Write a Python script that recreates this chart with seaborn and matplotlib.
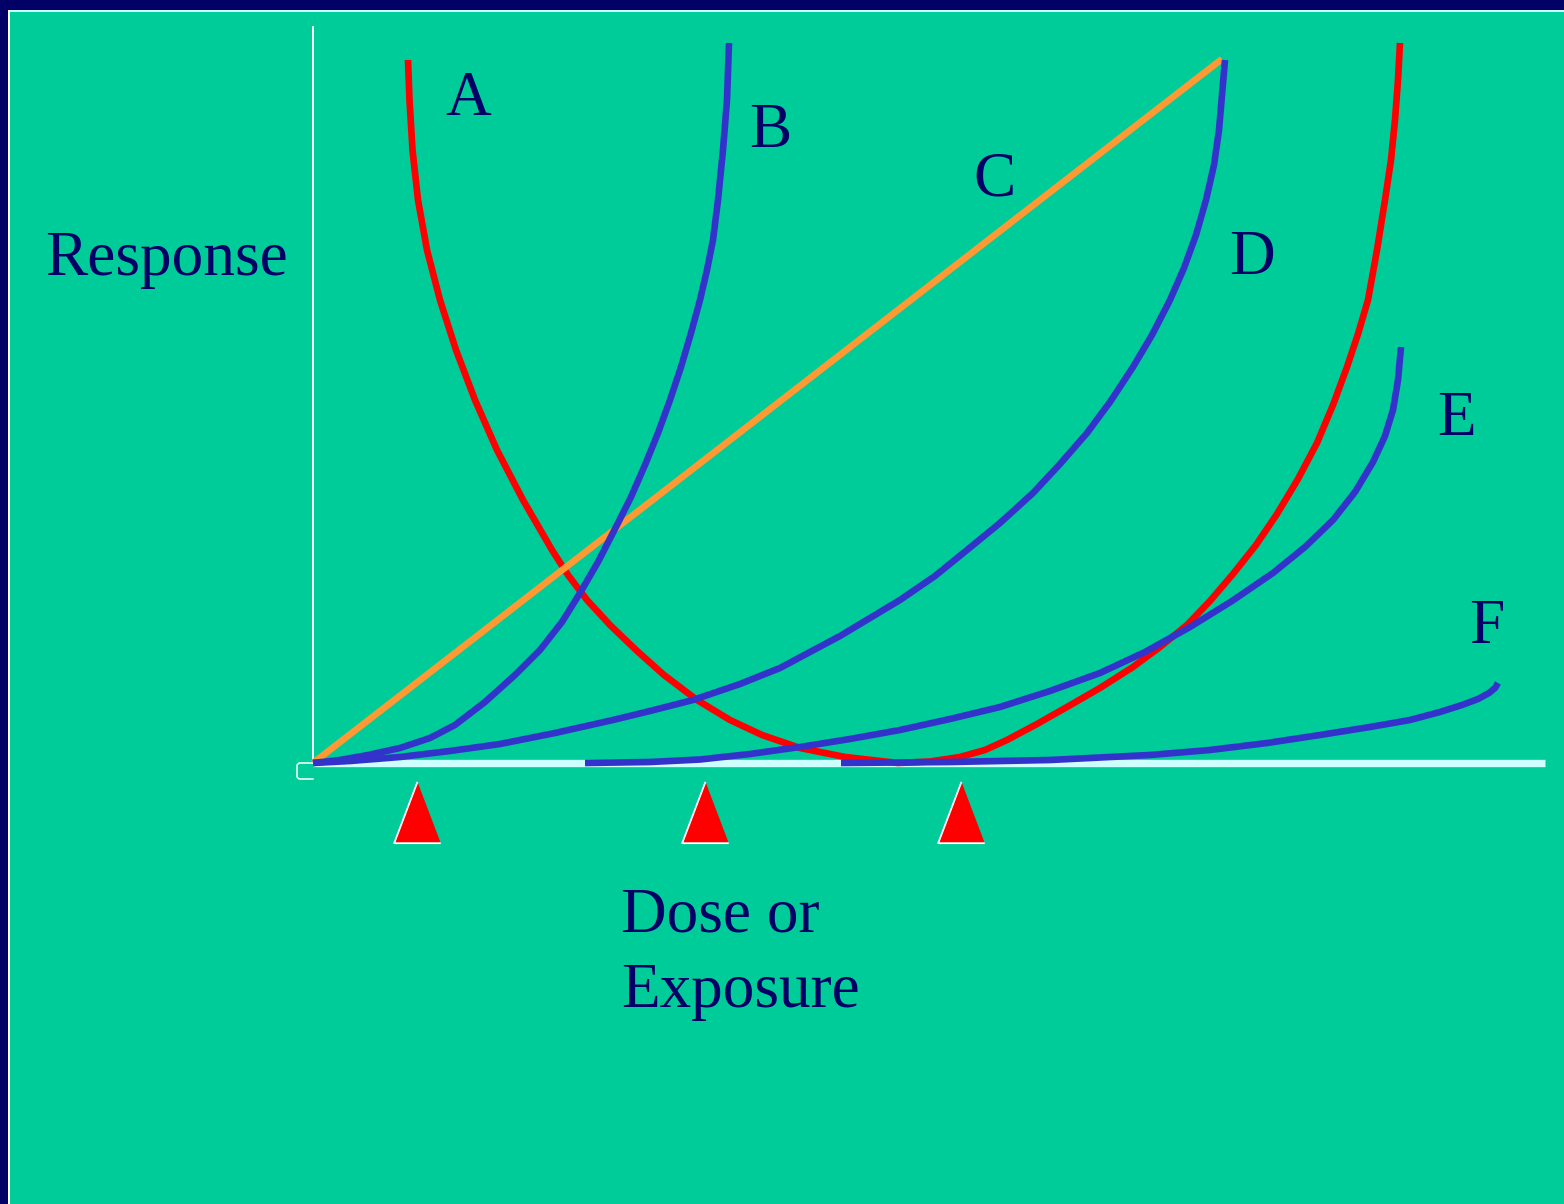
import matplotlib.pyplot as plt
import numpy as np
import pandas as pd
import seaborn as sns
from matplotlib.patches import Rectangle

# Dose / response, arbitrary units
# (dose 0-1232 along the axis, response 0-736 up to the top of the y axis)
dose_a = [95, 96.5, 99.5, 105, 114, 127, 143, 162, 184, 210, 239, 255, 274, 297, 323, 351,
          384, 417, 449, 487, 532, 585, 617, 647, 672, 694, 724, 754, 787, 820, 847, 874,
          897, 920, 943, 964, 985, 1004, 1020, 1034, 1045, 1055, 1064, 1072, 1078, 1082,
          1085, 1087]
resp_a = [703, 663, 613, 563, 513, 463, 413, 363, 313, 263, 213, 188, 163, 138, 113, 88,
          63, 43, 28, 15, 6, 0, 1.5, 6, 13, 23, 39, 56, 75, 96, 116, 138,
          162, 189, 218, 249, 284, 320, 358, 396, 429, 463, 513, 563, 603, 643,
          683, 720]

dose_b = [0, 27, 55, 87, 117, 142, 172, 202, 227, 249, 267, 285, 305, 318, 332, 345, 357,
          368, 378, 387, 394, 400, 405, 410, 414, 416]
resp_b = [0, 3, 8, 15, 25, 38, 61, 88, 113, 141, 170, 201, 240, 266, 298, 330, 363,
          396, 430, 463, 493, 523, 563, 613, 663, 720]

dose_c = [0, 909]
resp_c = [0, 704]

dose_d = [0, 37, 87, 137, 187, 242, 300, 337, 380, 427, 467, 527, 587, 622, 654, 687, 720,
          747, 774, 797, 820, 839, 857, 871, 883, 893, 901, 906, 909, 912]
resp_d = [0, 2, 6, 12, 19, 30, 43, 52, 63, 79, 95, 127, 163, 187, 213, 240, 270,
          299, 330, 361, 396, 428, 463, 495, 528, 563, 598, 633, 668, 703]

dose_e = [272, 337, 387, 437, 487, 537, 587, 637, 687, 737, 787, 832, 877, 919, 960, 992,
          1020, 1042, 1060, 1072, 1080, 1085, 1088]
resp_e = [0, 1, 3.5, 9, 16, 24, 33, 44, 56, 72, 90, 111, 136, 162, 190, 216,
          243, 271, 301, 327, 353, 383, 416]

dose_f = [528, 637, 737, 837, 897, 954, 1007, 1057, 1097, 1127, 1149, 1165, 1176, 1182, 1185]
resp_f = [0, 1, 3, 8, 13, 20, 28, 36, 43, 51, 58, 64, 70, 75, 80]

curve_names = ["A", "C", "B", "D", "E", "F"]
curve_colors = {"A": "#FF0000", "B": "#3333CC", "C": "#FF9933",
                "D": "#3333CC", "E": "#3333CC", "F": "#3333CC"}

# threshold markers below the dose axis
threshold_dose = [103.5, 392, 648]
threshold_resp = [-48.5, -48.5, -48.5]

# curve labels (left edge, baseline)
label_names = ["A", "B", "C", "D", "E", "F"]
label_x = [132, 436, 660, 916, 1124, 1156]
label_y = [648, 616, 567, 489, 328, 120]

BG = "#00CC99"
NAVY = "#000066"
W, H = 1564, 1204

plt.rcParams["font.family"] = ["Liberation Serif", "DejaVu Serif"]

fig = plt.figure(figsize=(W / 100, H / 100), dpi=100, facecolor=BG)

# slide frame
fig.add_artist(Rectangle((0, 1 - 10 / H), 1, 10 / H, transform=fig.transFigure,
                         facecolor=NAVY, edgecolor="none"))
fig.add_artist(Rectangle((0, 0), 8 / W, 1, transform=fig.transFigure,
                         facecolor=NAVY, edgecolor="none"))
fig.add_artist(Rectangle((8 / W, 1 - 12 / H), 1, 2 / H, transform=fig.transFigure,
                         facecolor="#CCFFFF", edgecolor="none"))
fig.add_artist(Rectangle((8 / W, 0), 2 / W, 1 - 10 / H, transform=fig.transFigure,
                         facecolor="white", edgecolor="none"))

ax = fig.add_axes([313 / W, (H - 763) / H, 1232 / W, 736 / H])
ax.set_xlim(0, 1232)
ax.set_ylim(0, 736)
ax.axis("off")

# axes lines
ax.plot([0, 1232], [0, 0], color="#CCFFFF", lw=5.3, solid_capstyle="butt",
        clip_on=False, zorder=1)
ax.plot([0, 0], [0, 736], color="white", lw=1.4, clip_on=False, zorder=1)
ax.plot([0, -14, -16, -16, -14, 0], [0, 0, -2, -14, -16, -16], color="white", lw=1.1,
        clip_on=False, zorder=1)

frames = []
for name, d, r in [("A", dose_a, resp_a), ("C", dose_c, resp_c), ("B", dose_b, resp_b),
                   ("D", dose_d, resp_d), ("E", dose_e, resp_e), ("F", dose_f, resp_f)]:
    frames.append(pd.DataFrame({"dose": d, "response": r, "curve": name}))
df = pd.concat(frames, ignore_index=True)

sns.lineplot(data=df, x="dose", y="response", hue="curve", hue_order=curve_names,
             palette=curve_colors, sort=False, estimator=None, legend=False,
             lw=4.8, solid_capstyle="butt", clip_on=False, ax=ax, zorder=2)

tri = [(0, 0.5), (-0.38, -0.5), (0.38, -0.5)]
sns.scatterplot(x=threshold_dose, y=threshold_resp, marker=tri, s=1950,
                color="#FF0000", edgecolor="white", linewidth=1.3,
                clip_on=False, ax=ax, zorder=3, legend=False)

text_kw = dict(color=NAVY, fontsize=45.5, ha="left", va="baseline", clip_on=False)
for name, x, y in zip(label_names, label_x, label_y):
    ax.text(x, y, name, **text_kw)
ax.text(-268, 488, "Response", **text_kw)
ax.text(308, -168, "Dose or", **text_kw)
ax.text(308, -244, "Exposure", **text_kw)

fig.savefig("out.png", dpi=100, facecolor=BG)
